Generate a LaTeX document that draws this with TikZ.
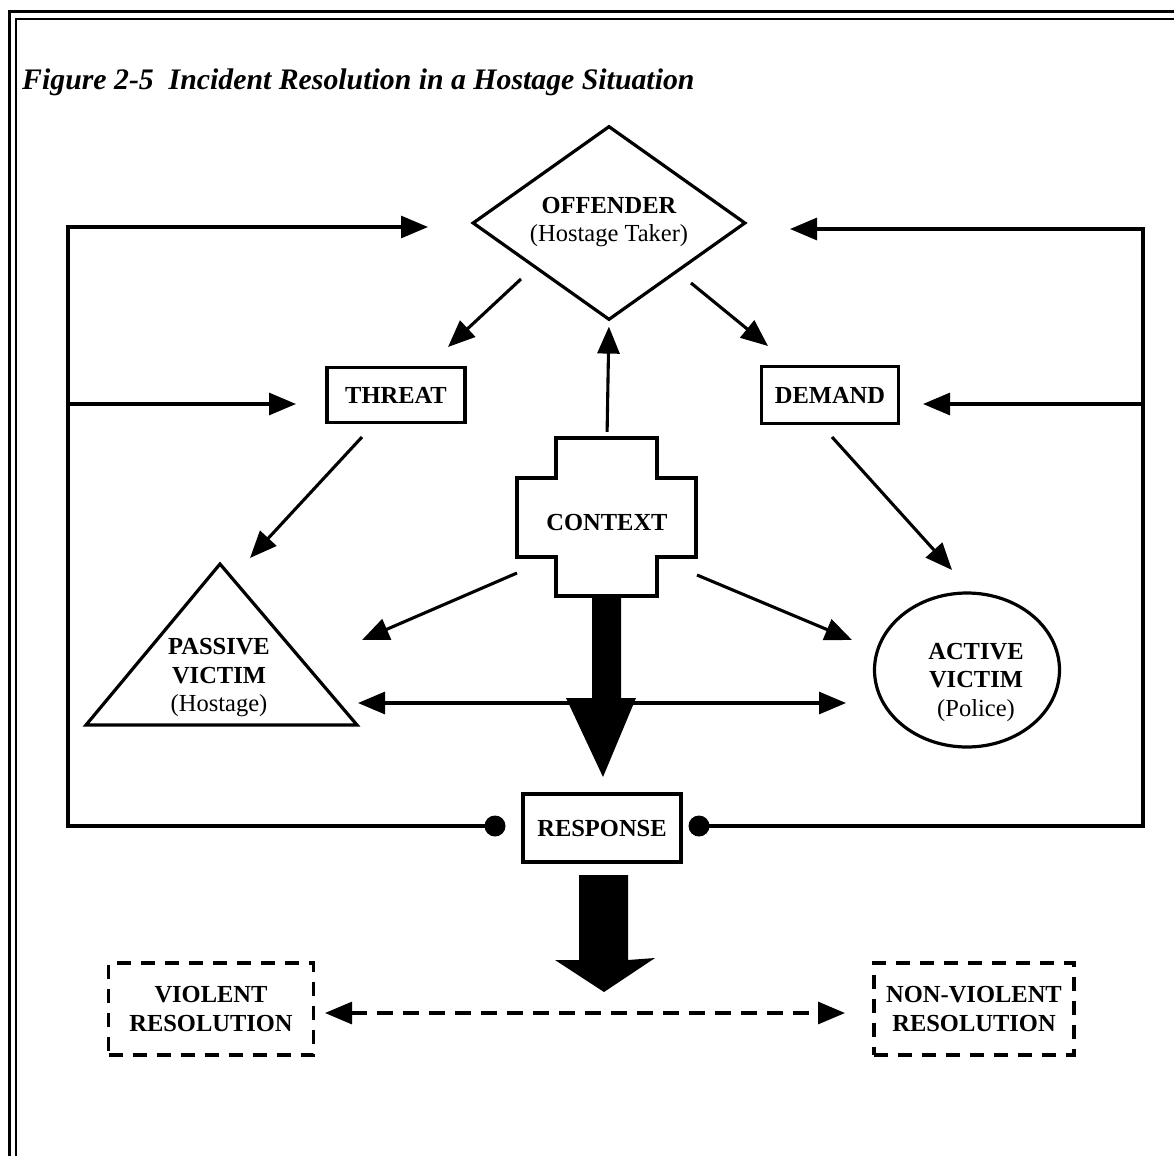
\documentclass[tikz,border=0pt]{standalone}
\usepackage{fontspec}
\setmainfont{Liberation Serif}
\usetikzlibrary{arrows.meta,shapes.geometric}
\begin{document}
\begin{tikzpicture}[x=1pt,y=-1pt,
  lbl/.style={font=\fontsize{24.5}{28.5}\selectfont\bfseries, align=center, inner sep=0pt},
  conn/.style={line width=3.1pt},
  tip/.style={-{Triangle[length=27pt,width=22pt]}},
  dtip/.style={{Triangle[length=27pt,width=22pt]}-{Triangle[length=27pt,width=22pt]}},
  solidbox/.style={draw, line width=3.6pt},
  dashbox/.style={draw, line width=3.4pt, dash pattern=on 14pt off 10pt},
  shapeline/.style={line width=3.2pt},
  dot/.style={circle, fill, inner sep=0pt, minimum size=21pt},
  bigarrow/.style={fill=black}]
\useasboundingbox (0,0) rectangle (1174,1156);
% frame
\draw[line width=3pt] (9,1156) -- (9,12) -- (1174,12);
\draw[line width=1.8pt] (16,1156) -- (16,19) -- (1174,19);
% title
\node[anchor=west, font=\fontsize{29.8}{32}\selectfont\bfseries\itshape, inner sep=0pt] (title) at (22,82) {Figure 2-5\ \ Incident Resolution in a Hostage Situation};
% offender
\node[draw, diamond, shapeline, minimum width=273pt, minimum height=194pt, inner sep=0pt] (off) at (609,223) {};
\node[lbl] (offtxt) at (609,222) {OFFENDER\\{\mdseries (Hostage Taker)}};
% threat / demand
\node[solidbox, lbl, minimum width=138pt, minimum height=55pt] (threat) at (396,395) {THREAT};
\node[solidbox, lbl, minimum width=137pt, minimum height=57pt] (demand) at (830,395) {DEMAND};
% context cross
\draw[shapeline] (556,438) -- (657,438) -- (657,478) -- (696,478) -- (696,557) -- (657,557) -- (657,596) -- (556,596) -- (556,557) -- (517,557) -- (517,478) -- (556,478) -- cycle;
\node[minimum width=179pt, minimum height=158pt, inner sep=0pt] (ctx) at (607,517) {};
\node[lbl] (ctxtxt) at (607,523) {CONTEXT};
% passive victim
\draw[shapeline] (220,564) -- (357,725) -- (86,725) -- cycle;
\node[lbl] (pas) at (219,678) {PASSIVE\\VICTIM\\{\mdseries (Hostage)}};
% active victim
\node[draw, ellipse, shapeline, minimum width=185pt, minimum height=154pt] (act) at (967,670) {};
\node[lbl] (acttxt) at (976,682) {ACTIVE\\VICTIM\\{\mdseries (Police)}};
% response
\node[solidbox, lbl, minimum width=158pt, minimum height=68pt] (resp) at (602,828) {RESPONSE};
\node[dot] (ldot) at (495,826) {};
\node[dot] (rdot) at (699,826) {};
% resolutions
\node[dashbox, lbl, minimum width=205pt, minimum height=92pt] (viol) at (211,1009) {VIOLENT\\RESOLUTION};
\node[dashbox, lbl, minimum width=200pt, minimum height=92pt] (nonviol) at (974,1009) {NON-VIOLENT\\RESOLUTION};
% helper coordinates
\coordinate (lcorner) at (68,826);
\coordinate (ltop) at (68,227);
\coordinate (lmid) at (68,404);
\coordinate (offL) at (428,227);
\coordinate (thrL) at (296,404);
\coordinate (rcorner) at (1143,826);
\coordinate (rtop) at (1143,229);
\coordinate (rmid) at (1143,404);
\coordinate (offR) at (790,229);
\coordinate (demR) at (923,404);
\coordinate (offSW) at (521,279);
\coordinate (thrTip) at (448,347);
\coordinate (offSE) at (691,283);
\coordinate (demTip) at (768,346);
\coordinate (thrS) at (362,437);
\coordinate (pasTip) at (250,558);
\coordinate (demS) at (832,437);
\coordinate (actTip) at (952,570);
\coordinate (ctxSW) at (517,573);
\coordinate (pasR) at (362,640);
\coordinate (ctxSE) at (697,575);
\coordinate (actL) at (852,640);
\coordinate (pasE) at (358,703);
\coordinate (actW) at (846,703);
\coordinate (violE) at (325,1013);
\coordinate (nonW) at (845,1013);
% feedback loops
\draw[conn, tip] (ldot.center) -- (lcorner) -- (ltop) -- (offL);
\draw[conn, tip] (lmid) -- (thrL);
\draw[conn, tip] (rdot.center) -- (rcorner) -- (rtop) -- (offR);
\draw[conn, tip] (rmid) -- (demR);
% offender branches
\draw[conn, tip] (offSW) -- (thrTip);
\draw[conn, tip] (offSE) -- (demTip);
\draw[conn, tip, shorten <=6pt, shorten >=5pt] (ctx.north) -- (off.south);
\draw[conn, tip] (thrS) -- (pasTip);
\draw[conn, tip] (demS) -- (actTip);
\draw[conn, tip] (ctxSW) -- (pasR);
\draw[conn, tip] (ctxSE) -- (actL);
\draw[conn, dtip] (pasE) -- (actW);
% big arrows
\fill[bigarrow] (592,598) -- (621,598) -- (621,698) -- (636,698) -- (603,777) -- (566,698) -- (592,698) -- cycle;
\fill[bigarrow] (579,875) -- (628,875) -- (628,960) -- (655,958) -- (604,992) -- (555,960) -- (579,960) -- cycle;
% dashed resolution arrow
\draw[conn, dtip, dash pattern=on 16pt off 10pt] (violE) -- (nonW);
\end{tikzpicture}
\end{document}
